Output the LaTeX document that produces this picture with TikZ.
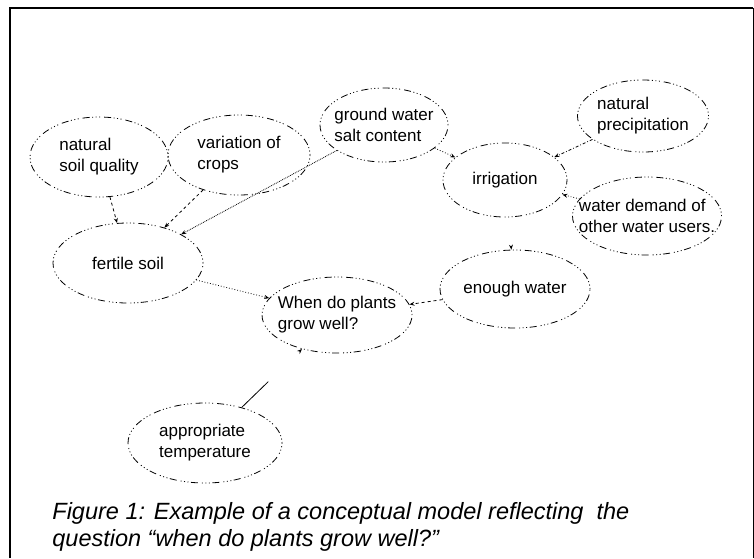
\documentclass[tikz,border=0pt]{standalone}
\usepackage{fontspec}
\setmainfont{Liberation Sans}
\usetikzlibrary{shapes.geometric,arrows.meta}

\begin{document}
\begin{tikzpicture}[x=1pt,y=-1pt,line width=0.8pt,
    idea/.style={ellipse,draw,inner xsep=-8pt,inner ysep=0pt,align=left,
      font=\fontsize{17}{21}\selectfont,
      minimum width=145pt,minimum height=78pt,
      dash pattern=on 1pt off 2.5pt on 1pt off 2.5pt on 1pt off 2.5pt on 7pt off 4pt},
    link/.style={-{Stealth[length=5pt,width=4pt]}}]
          \useasboundingbox (0,0) rectangle (754,558);
          \draw[line width=2pt] (10,558) -- (10,8) -- (753,8);
          \draw (753,8) -- (753,558);
          \node[idea,minimum width=138pt,minimum height=80pt] (soilq) at (99,157) {natural\\soil quality};
          \node[idea,minimum width=142pt,minimum height=80pt] (crops) at (239,155) {variation of\\crops};
          \node[idea,minimum width=128pt,minimum height=74pt] (salt) at (384,125) {ground water\\salt content};
          \node[idea,minimum width=131pt,minimum height=72pt] (precip) at (643,116) {natural\\precipitation};
          \node[idea,minimum width=124pt,minimum height=74pt] (irrig) at (505,180) {irrigation};
          \node[idea,minimum width=149pt,inner xsep=-17pt] (demand) at (647,216) {water demand of\\other water users.};
          \node[idea,minimum width=150pt] (water) at (515,289) {enough water};
          \node[idea,minimum width=150pt,minimum height=80pt] (fertile) at (128,263) {fertile soil};
          \node[idea,minimum width=150pt,minimum height=76pt] (plants) at (337,315) {When do plants\\grow well?};
          \node[idea,minimum width=154pt,minimum height=80pt] (temp) at (205,443) {appropriate\\temperature};
          \draw[link,dash pattern=on 3pt off 3pt] (soilq) -- (fertile);
          \draw[link,dashed] (crops) -- (fertile);
          \draw[link,densely dotted] (salt) -- (fertile);
          \draw[link,dotted] (fertile) -- (plants);
          \draw[link,dashed] (water) -- (plants);
          \draw[link,dotted] (salt) -- (irrig);
          \draw[link,dash dot] (precip) -- (irrig);
          \draw[link,dotted] (demand) -- (irrig);
          \draw[link,dash pattern=on 0pt off 200pt] (irrig) -- (water);
          \draw[link,dash pattern=on 37pt off 100pt] (temp) -- (plants);
          \node[anchor=north west,inner sep=0pt,align=left,font=\fontsize{23.5}{27}\selectfont\itshape] (caption) at (52,502)
            {Figure 1: Example of a conceptual model reflecting~ the\\question “when do plants grow well?”};
        \end{tikzpicture}
\end{document}
